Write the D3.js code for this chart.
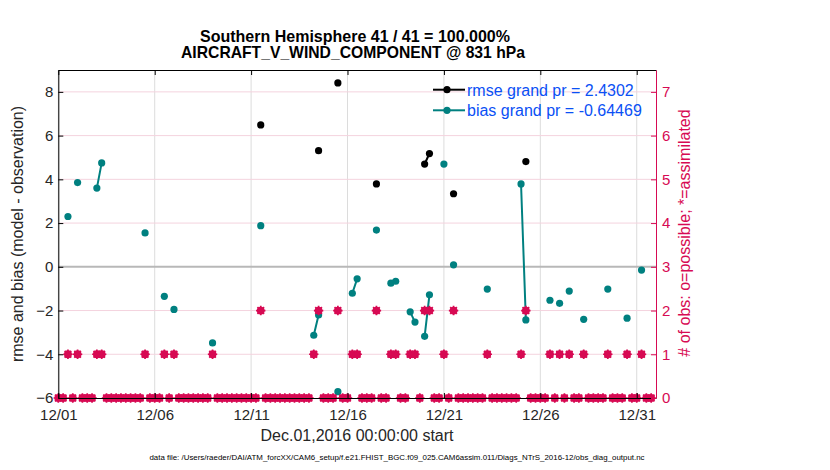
<!DOCTYPE html>
<html>
<head>
<meta charset="utf-8">
<script src="https://cdn.jsdelivr.net/npm/d3@7/dist/d3.min.js"></script>
<style>
  html, body { margin: 0; padding: 0; background: #fff; }
  svg { display: block; font-family: "Liberation Sans", Arial, Helvetica, sans-serif; }
</style>
</head>
<body>
<svg id="chart" width="830" height="470"></svg>
<script>
// ---------------- data (6-hourly bins, 12/01 00:00 .. 12/31 18:00) ----------------
const titleLines = ["Southern Hemisphere 41 / 41 = 100.000%", "AIRCRAFT_V_WIND_COMPONENT @ 831 hPa"];
const startDate = "2016-12-01T00:00:00Z";
const endDate = "2017-01-01T00:00:00Z";
const binHours = 6;
const xTickDates = ["2016-12-01", "2016-12-06", "2016-12-11", "2016-12-16", "2016-12-21", "2016-12-26", "2016-12-31"];
const leftTicks = [-6, -4, -2, 0, 2, 4, 6, 8];
const rightTicks = [0, 1, 2, 3, 4, 5, 6, 7];
const legendLabels = ["rmse grand pr = 2.4302", "bias grand pr = -0.64469"];

// number of observations per bin (possible == assimilated), one row per day
const obsCount = [
  0,0,1,0,  1,0,0,0,  1,1,0,0,  0,0,0,0,  0,0,1,0,
  0,0,1,0,  1,0,0,0,  0,0,0,0,  1,0,0,0,  0,0,0,0,
  0,0,2,0,  0,0,0,0,  0,0,0,0,  0,1,2,0,  0,0,2,0,
  0,1,1,0,  0,0,2,0,  0,1,1,0,  0,1,1,0,  2,2,0,0,
  1,0,2,0,  0,0,0,0,  0,1,0,0,  0,0,0,0,  1,2,0,0,
  0,0,1,0,  1,0,1,0,  0,1,0,0,  0,0,1,0,  0,0,1,0,
  0,1,0,0
];
const N = null;
// bias per bin
const bias = [
  N,N,2.30,N,  3.85,N,N,N,  3.60,4.75,N,N,  N,N,N,N,  N,N,1.55,N,
  N,N,-1.35,N,  -1.95,N,N,N,  N,N,N,N,  -3.48,N,N,N,  N,N,N,N,
  N,N,1.88,N,  N,N,N,N,  N,N,N,N,  N,-3.13,-2.20,N,  N,N,-5.71,N,
  N,-1.21,-0.55,N,  N,N,1.68,N,  N,-0.75,-0.66,N,  N,-2.06,-2.53,N,  -3.18,-1.28,N,N,
  4.70,N,0.09,N,  N,N,N,N,  N,-1.02,N,N,  N,N,N,N,  3.79,-2.43,N,N,
  N,N,-1.53,N,  -1.67,N,-1.11,N,  N,-2.40,N,N,  N,N,-1.02,N,  N,N,-2.35,N,
  N,-0.15,N,N
];
// rmse per bin
const rmse = [
  N,N,N,N,  N,N,N,N,  N,N,N,N,  N,N,N,N,  N,N,N,N,
  N,N,N,N,  N,N,N,N,  N,N,N,N,  N,N,N,N,  N,N,N,N,
  N,N,6.49,N,  N,N,N,N,  N,N,N,N,  N,N,5.31,N,  N,N,8.41,N,
  N,N,N,N,  N,N,3.79,N,  N,N,N,N,  N,N,N,N,  4.70,5.18,N,N,
  N,N,3.34,N,  N,N,N,N,  N,N,N,N,  N,N,N,N,  N,4.81,N,N,
  N,N,N,N,  N,N,N,N,  N,N,N,N,  N,N,N,N,  N,N,N,N,
  N,N,N,N
];

// ---------------- styles ----------------
const C_RMSE = "#000000", C_BIAS = "#008080", C_OBS = "#d70a53", C_LEG = "#0a50f5";
const M = { left: 58.3, right: 656, top: 70, bottom: 398 };

const svg = d3.select("#chart");
const t0 = new Date(startDate);
const binTime = i => new Date(t0.getTime() + i * binHours * 3600e3);

const x = d3.scaleUtc().domain([t0, new Date(endDate)]).range([M.left, M.right]);
const yL = d3.scaleLinear().domain([-6, 9]).range([M.bottom, M.top]);
const yR = d3.scaleLinear().domain([0, 7.5]).range([M.bottom, M.top]);
const xTicks = xTickDates.map(d => new Date(d + "T00:00:00Z"));

const defs = svg.append("defs");
defs.append("clipPath").attr("id", "plotclip").append("rect")
  .attr("x", M.left).attr("y", M.top).attr("width", M.right - M.left).attr("height", M.bottom - M.top);

// grid
const grid = svg.append("g");
grid.selectAll("line.v").data(xTicks).join("line")
  .attr("x1", d => x(d)).attr("x2", d => x(d)).attr("y1", M.top).attr("y2", M.bottom)
  .attr("stroke", "#dcdcdc").attr("stroke-width", 1);
grid.selectAll("line.h").data(rightTicks.filter(v => v > 0 && v !== 3)).join("line")
  .attr("x1", M.left).attr("x2", M.right).attr("y1", d => yR(d)).attr("y2", d => yR(d))
  .attr("stroke", "#f4d3de").attr("stroke-width", 1);
// zero line
grid.append("line").attr("x1", M.left).attr("x2", M.right).attr("y1", yL(0)).attr("y2", yL(0))
  .attr("stroke", "#b8b8b8").attr("stroke-width", 2);

const plot = svg.append("g").attr("clip-path", "url(#plotclip)");

// series
const pts = (arr) => arr.map((v, i) => ({ t: binTime(i), v })).filter(d => d.v !== null);
const line = d3.line().defined(d => d.v !== null).x(d => x(d.t)).y(d => yL(d.v));
const full = (arr) => arr.map((v, i) => ({ t: binTime(i), v }));

plot.append("path").datum(full(rmse)).attr("d", line)
  .attr("fill", "none").attr("stroke", C_RMSE).attr("stroke-width", 2);
plot.selectAll("circle.rmse").data(pts(rmse)).join("circle")
  .attr("cx", d => x(d.t)).attr("cy", d => yL(d.v)).attr("r", 3.6).attr("fill", C_RMSE);

plot.append("path").datum(full(bias)).attr("d", line)
  .attr("fill", "none").attr("stroke", C_BIAS).attr("stroke-width", 2);
plot.selectAll("circle.bias").data(pts(bias)).join("circle")
  .attr("cx", d => x(d.t)).attr("cy", d => yL(d.v)).attr("r", 3.6).attr("fill", C_BIAS);

// obs counts: circle + asterisk marker
const starPath = (() => {
  const r = 4.7, p = [];
  for (let k = 0; k < 4; k++) {
    const a = k * Math.PI / 4;
    p.push(`M${-r * Math.cos(a)},${-r * Math.sin(a)}L${r * Math.cos(a)},${r * Math.sin(a)}`);
  }
  return p.join("");
})();
const obsG = svg.append("g");
const obsPts = obsCount.map((v, i) => ({ t: binTime(i), v }));
const mk = obsG.selectAll("g").data(obsPts).join("g")
  .attr("transform", d => `translate(${x(d.t)},${yR(d.v)})`);
mk.append("circle").attr("r", 3.9).attr("fill", C_OBS);
mk.append("path").attr("d", starPath).attr("stroke", C_OBS).attr("stroke-width", 1.7);

// axes
const fs = 15;
const gL = svg.append("g").attr("transform", `translate(${M.left},0)`)
  .call(d3.axisLeft(yL).tickValues(leftTicks).tickSizeInner(-5).tickSizeOuter(0).tickPadding(5));
const gB = svg.append("g").attr("transform", `translate(0,${M.bottom})`)
  .call(d3.axisBottom(x).tickValues(xTicks).tickFormat(d3.utcFormat("%m/%d")).tickSizeInner(-5).tickSizeOuter(0).tickPadding(11));
const gT = svg.append("g").attr("transform", `translate(0,${M.top})`)
  .call(d3.axisTop(x).tickValues(xTicks).tickFormat("").tickSizeInner(-5).tickSizeOuter(0));
const gR = svg.append("g").attr("transform", `translate(${M.right},0)`)
  .call(d3.axisRight(yR).tickValues(rightTicks).tickSizeInner(-5).tickSizeOuter(0).tickPadding(6));

[gL, gB, gT].forEach(g => {
  g.selectAll("path.domain").attr("stroke", "#000").attr("stroke-width", 1);
  g.selectAll(".tick line").attr("stroke", "#000");
  g.selectAll("text").attr("font-size", fs).attr("fill", "#262626").attr("font-family", null);
});
gR.selectAll("path.domain").attr("stroke", C_OBS).attr("stroke-width", 1);
gR.selectAll(".tick line").attr("stroke", C_OBS);
gR.selectAll("text").attr("font-size", fs).attr("fill", C_OBS).attr("font-family", null);

// titles
svg.append("text").attr("x", 355).attr("y", 42).attr("text-anchor", "middle")
  .attr("font-size", 16).attr("font-weight", "bold").attr("fill", "#000").text(titleLines[0]);
svg.append("text").attr("x", 353).attr("y", 57.5).attr("text-anchor", "middle")
  .attr("font-size", 15.7).attr("font-weight", "bold").attr("fill", "#000").text(titleLines[1]);

// axis labels
svg.append("text").attr("transform", "translate(23,234) rotate(-90)").attr("text-anchor", "middle")
  .attr("font-size", 16).attr("fill", "#262626").text("rmse and bias (model - observation)");
svg.append("text").attr("transform", "translate(690,233) rotate(-90)").attr("text-anchor", "middle")
  .attr("font-size", 16).attr("fill", C_OBS).text("# of obs: o=possible; *=assimilated");
svg.append("text").attr("x", 357).attr("y", 441).attr("text-anchor", "middle")
  .attr("font-size", 16).attr("fill", "#262626").text("Dec.01,2016 00:00:00 start");
svg.append("text").attr("x", 397).attr("y", 460).attr("text-anchor", "middle")
  .attr("font-size", 7.9).attr("fill", "#000")
  .text("data file: /Users/raeder/DAI/ATM_forcXX/CAM6_setup/f.e21.FHIST_BGC.f09_025.CAM6assim.011/Diags_NTrS_2016-12/obs_diag_output.nc");

// legend
const legY = [89.7, 110.3];
const legC = [C_RMSE, C_BIAS];
legendLabels.forEach((lab, i) => {
  svg.append("line").attr("x1", 433).attr("x2", 465).attr("y1", legY[i]).attr("y2", legY[i])
    .attr("stroke", legC[i]).attr("stroke-width", 2);
  svg.append("circle").attr("cx", 447).attr("cy", legY[i]).attr("r", 3.6).attr("fill", legC[i]);
  svg.append("text").attr("x", 467).attr("y", legY[i] + 5.8).attr("font-size", 16)
    .attr("fill", C_LEG).text(lab);
});
</script>
</body>
</html>
